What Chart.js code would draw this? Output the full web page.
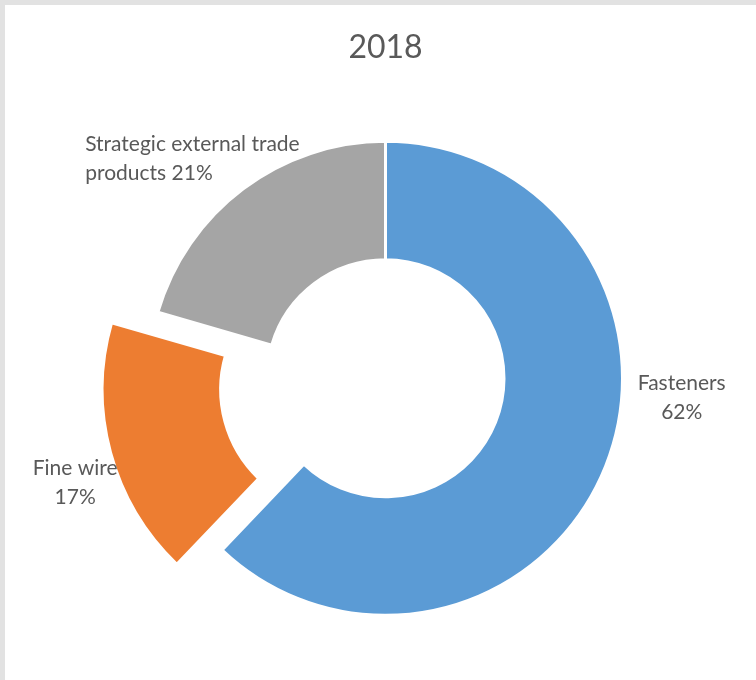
<!DOCTYPE html>
<html><head><meta charset="utf-8">
<script src="https://cdn.jsdelivr.net/npm/chart.js@4"></script>
<style>
html,body{margin:0;padding:0;background:#e2e2e2;width:756px;height:680px;overflow:hidden}
#wrap{position:absolute;left:5px;top:5px;width:751px;height:675px;background:#fff}
canvas{display:block}
</style></head><body>
<div id="wrap"><canvas id="c" width="751" height="675" style="width:751px;height:675px"></canvas></div>
<script>
const chartTitle = '2018';
const categories = ['Fasteners', 'Fine wire', 'Strategic external trade products'];
const shares = [62.1, 17.4, 20.5];
const colors = ['#5B9BD5', '#ED7D31', '#A5A5A5'];
const explodedIndex = 1;

const TEXT = '#595959';
const FONT = 'Lato, "Open Sans", sans-serif';

// label lines for each slice
const labelLines = [
  [categories[0], Math.round(shares[0]) + '%'],
  ['Fine wire', Math.round(shares[1]) + '%'],
  ['Strategic external trade', 'products ' + Math.round(shares[2]) + '%']
];
// label placement: polar position relative to ring centre (deg, factor of outer radius)
const labelPlace = [
  {ang: 3.7, dist: 1.2525, align: 'center'},
  {ang: 161.4, dist: 1.3815, align: 'center'},
  {ang: 216.2, dist: 1.5705, align: 'left'}
];

const labelPlugin = {
  id: 'sliceLabels',
  afterDatasetsDraw(chart) {
    const meta = chart.getDatasetMeta(0);
    const ctx = chart.ctx;
    ctx.save();
    ctx.font = '21px ' + FONT;
    ctx.fillStyle = TEXT;
    ctx.textBaseline = 'middle';
    const lh = 29;
    meta.data.forEach((arc, i) => {
      const p = arc.getProps(['x', 'y', 'outerRadius'], true);
      const pl = labelPlace[i];
      const a = pl.ang * Math.PI / 180;
      const ax = p.x + Math.cos(a) * p.outerRadius * pl.dist;
      const ay = p.y + Math.sin(a) * p.outerRadius * pl.dist;
      ctx.textAlign = pl.align;
      const lines = labelLines[i];
      lines.forEach((t, k) => {
        ctx.fillText(t, ax, ay + (k - (lines.length - 1) / 2) * lh);
      });
    });
    ctx.restore();
  }
};

new Chart(document.getElementById('c'), {
  type: 'doughnut',
  data: {
    labels: categories,
    datasets: [{
      data: shares,
      backgroundColor: colors,
      borderColor: '#ffffff',
      borderWidth: 3,
      offset: shares.map((v, i) => i === explodedIndex ? 172 : 0),
      hoverOffset: 0
    }]
  },
  options: {
    responsive: false,
    animation: false,
    events: [],
    radius: 237,
    cutout: '50%',
    rotation: 0,
    layout: {padding: {left: 10, right: 0, top: 0, bottom: 0}},
    plugins: {
      legend: {display: false},
      tooltip: {enabled: false},
      title: {
        display: true,
        text: chartTitle,
        color: TEXT,
        font: {family: FONT, size: 32, weight: 'normal', lineHeight: 1.2},
        padding: {top: 23, bottom: 10.2}
      }
    }
  },
  plugins: [labelPlugin]
});
</script>
</body></html>
